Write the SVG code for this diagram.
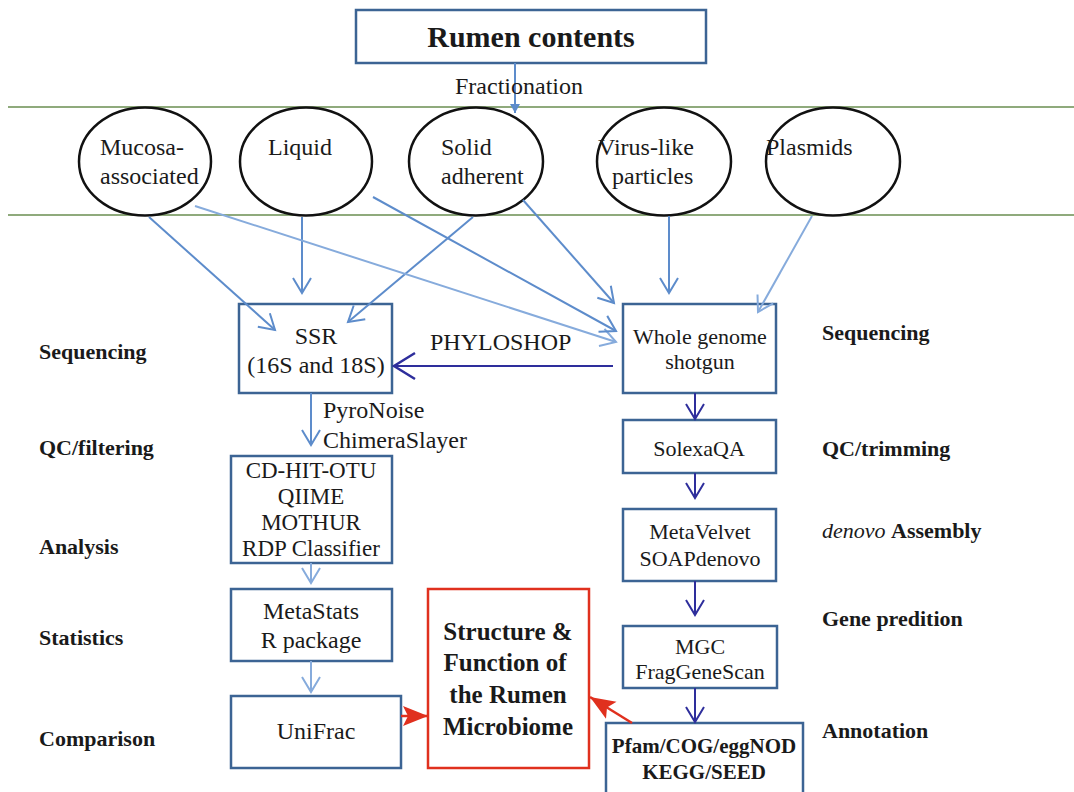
<svg xmlns="http://www.w3.org/2000/svg" width="1074" height="792" viewBox="0 0 1074 792">
<style>
text{font-family:"Liberation Serif","Times New Roman",serif;fill:#1a1a1a}
.b{font-weight:bold}
.box{fill:#fff;stroke:#3c6494;stroke-width:2.5}
.ell{fill:#fff;stroke:#111;stroke-width:2.5}
.sep{stroke:#8faa7c;stroke-width:2}
.c1{fill:none;stroke:#5d8ccb;stroke-width:2}
.c2{fill:none;stroke:#86abdc;stroke-width:2}
.c3{fill:none;stroke:#2e2e9c;stroke-width:2}
.cr{fill:none;stroke:#e0301e;stroke-width:2.5}
.t24{font-size:24px}
.t22{font-size:22px}
.t23{font-size:23px}
.mid{text-anchor:middle}
</style>
<defs>
<marker id="m1" markerUnits="userSpaceOnUse" markerWidth="20" markerHeight="22" viewBox="0 0 20 22" refX="17" refY="11" orient="auto"><path d="M2,2 L17,11 L2,20" fill="none" stroke="#5d8ccb" stroke-width="2"/></marker>
<marker id="m2" markerUnits="userSpaceOnUse" markerWidth="20" markerHeight="22" viewBox="0 0 20 22" refX="17" refY="11" orient="auto"><path d="M2,2 L17,11 L2,20" fill="none" stroke="#86abdc" stroke-width="2"/></marker>
<marker id="m3" markerUnits="userSpaceOnUse" markerWidth="20" markerHeight="22" viewBox="0 0 20 22" refX="17" refY="11" orient="auto"><path d="M2,2 L17,11 L2,20" fill="none" stroke="#2e2e9c" stroke-width="2"/></marker>
<marker id="m3b" markerUnits="userSpaceOnUse" markerWidth="26" markerHeight="30" viewBox="0 0 26 30" refX="23" refY="15" orient="auto"><path d="M2,2 L23,15 L2,28" fill="none" stroke="#2e2e9c" stroke-width="2.5"/></marker>
<marker id="mr" markerUnits="userSpaceOnUse" markerWidth="26" markerHeight="22" viewBox="0 0 26 22" refX="25" refY="11" orient="auto"><path d="M0,1 L25,11 L0,21 L5,11 Z" fill="#e0301e"/></marker>
<marker id="mf" markerUnits="userSpaceOnUse" markerWidth="10" markerHeight="10" viewBox="0 0 10 10" refX="9" refY="5" orient="auto"><path d="M0,0 L9,5 L0,10 Z" fill="#5d8ccb"/></marker>
</defs>

<g id="separators">
<line class="sep" x1="8" y1="107" x2="1074" y2="107"/>
<line class="sep" x1="8" y1="215" x2="1074" y2="215"/>
</g>

<g id="rumen-contents">
<rect class="box" x="356" y="10" width="350" height="53"/>
<text class="b mid" x="531" y="47" font-size="30">Rumen contents</text>
</g>
<g id="mucosa">
<ellipse class="ell" cx="145" cy="161.5" rx="66" ry="54"/>
<text class="t24" x="100" y="155">Mucosa-</text>
<text class="t24" x="100" y="184">associated</text>
</g>
<g id="liquid">
<ellipse class="ell" cx="306" cy="161.5" rx="66" ry="54"/>
<text class="t24" x="268" y="155">Liquid</text>
</g>
<g id="solid">
<ellipse class="ell" cx="476" cy="161.5" rx="67" ry="54"/>
<text class="t24" x="441" y="155">Solid</text>
<text class="t24" x="441" y="184">adherent</text>
</g>
<g id="virus">
<ellipse class="ell" cx="664" cy="161.5" rx="67" ry="54"/>
<text class="t24" x="598" y="155">Virus-like</text>
<text class="t24" x="612" y="184">particles</text>
</g>
<g id="plasmids">
<ellipse class="ell" cx="833" cy="161.5" rx="67" ry="54"/>
<text class="t24" x="766" y="155">Plasmids</text>
</g>

<g id="ssr">
<rect class="box" x="239" y="304" width="153" height="89"/>
<text class="t24 mid" x="316" y="344">SSR</text>
<text class="t24 mid" x="316" y="373">(16S and 18S)</text>
</g>
<g id="wgs">
<rect class="box" x="623" y="304" width="153" height="89"/>
<text class="t22 mid" x="700" y="344">Whole genome</text>
<text class="t22 mid" x="700" y="369">shotgun</text>
</g>
<g id="cdhit">
<rect class="box" x="231" y="456" width="161" height="107"/>
<text class="t23 mid" x="311" y="478">CD-HIT-OTU</text>
<text class="t23 mid" x="311" y="504">QIIME</text>
<text class="t23 mid" x="311" y="530">MOTHUR</text>
<text class="t23 mid" x="311" y="556">RDP Classifier</text>
</g>
<g id="metastats">
<rect class="box" x="231" y="589" width="161" height="72"/>
<text class="t24 mid" x="311" y="619">MetaStats</text>
<text class="t24 mid" x="311" y="648">R package</text>
</g>
<g id="unifrac">
<rect class="box" x="231" y="696" width="170" height="72"/>
<text class="t24 mid" x="316" y="739">UniFrac</text>
</g>
<g id="structure">
<rect x="428" y="589" width="161" height="179" fill="#fff" stroke="#e0301e" stroke-width="2.5"/>
<text class="b mid" font-size="25" x="508" y="640">Structure &amp;</text>
<text class="b mid" font-size="25" x="505" y="671">Function of</text>
<text class="b mid" font-size="25" x="508" y="703">the Rumen</text>
<text class="b mid" font-size="25" x="508" y="735">Microbiome</text>
</g>
<g id="solexaqa">
<rect class="box" x="623" y="420" width="153" height="53"/>
<text class="t22 mid" x="699" y="456">SolexaQA</text>
</g>
<g id="metavelvet">
<rect class="box" x="623" y="509" width="153" height="72"/>
<text class="t22 mid" x="700" y="539">MetaVelvet</text>
<text class="t22 mid" x="700" y="566">SOAPdenovo</text>
</g>
<g id="mgc">
<rect class="box" x="623" y="626" width="154" height="62"/>
<text class="t22 mid" x="700" y="654">MGC</text>
<text class="t22 mid" x="700" y="679">FragGeneScan</text>
</g>
<g id="annotation-box">
<rect class="box" x="606" y="723" width="197" height="80"/>
<text class="b mid" font-size="21" x="704" y="753">Pfam/COG/eggNOD</text>
<text class="b mid" font-size="21" x="704" y="779">KEGG/SEED</text>
</g>

<g id="connectors">
<line class="c1" x1="515" y1="63" x2="515" y2="113" marker-end="url(#mf)"/>
<line class="c1" x1="149" y1="217" x2="275" y2="330" marker-end="url(#m1)"/>
<line class="c1" x1="302" y1="217" x2="302" y2="293" marker-end="url(#m1)"/>
<line class="c1" x1="473" y1="217" x2="348" y2="322" marker-end="url(#m1)"/>
<line class="c2" x1="195" y1="206" x2="616" y2="342" marker-end="url(#m2)"/>
<line class="c1" x1="373" y1="197" x2="616" y2="331" marker-end="url(#m1)"/>
<line class="c1" x1="523" y1="200" x2="614" y2="303" marker-end="url(#m1)"/>
<line class="c1" x1="669" y1="216" x2="669" y2="293" marker-end="url(#m1)"/>
<line class="c2" x1="812" y1="216" x2="758" y2="312" marker-end="url(#m2)"/>
<line class="c3" x1="613" y1="366" x2="394" y2="366" marker-end="url(#m3b)"/>
<line class="c1" x1="311" y1="393" x2="311" y2="445" marker-end="url(#m1)"/>
<line class="c2" x1="311" y1="563" x2="311" y2="583" marker-end="url(#m2)"/>
<line class="c2" x1="311" y1="661" x2="311" y2="692" marker-end="url(#m2)"/>
<line class="c3" x1="695" y1="393" x2="695" y2="419" marker-end="url(#m3)"/>
<line class="c3" x1="695" y1="473" x2="695" y2="498" marker-end="url(#m3)"/>
<line class="c3" x1="695" y1="581" x2="695" y2="615" marker-end="url(#m3)"/>
<line class="c3" x1="695" y1="688" x2="695" y2="722" marker-end="url(#m3)"/>
<line class="cr" x1="401" y1="716" x2="428" y2="716" marker-end="url(#mr)"/>
<line class="cr" x1="632" y1="723" x2="590" y2="697" marker-end="url(#mr)"/>
</g>

<g id="labels">
<text class="t24 mid" x="519" y="94">Fractionation</text>
<text class="t24" x="430" y="350">PHYLOSHOP</text>
<text class="t24" x="323" y="418">PyroNoise</text>
<text class="t24" x="323" y="448">ChimeraSlayer</text>
<text class="t22 b" x="39" y="359">Sequencing</text>
<text class="t22 b" x="39" y="455">QC/filtering</text>
<text class="t22 b" x="39" y="554">Analysis</text>
<text class="t22 b" x="39" y="645">Statistics</text>
<text class="t22 b" x="39" y="746">Comparison</text>
<text class="t22 b" x="822" y="340">Sequencing</text>
<text class="t22 b" x="822" y="456">QC/trimming</text>
<text class="t22" x="822" y="538"><tspan font-style="italic">denovo</tspan> <tspan font-weight="bold">Assembly</tspan></text>
<text class="t22 b" x="822" y="626">Gene predition</text>
<text class="t22 b" x="822" y="738">Annotation</text>
</g>
</svg>
